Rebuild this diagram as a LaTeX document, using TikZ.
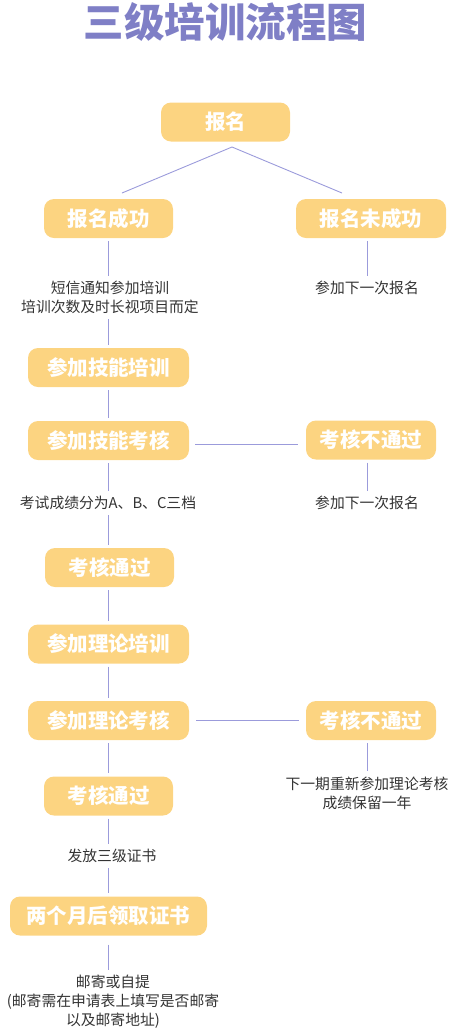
\documentclass[tikz,border=0pt]{standalone}
\usepackage{fontspec}
\usetikzlibrary{calc}
\setmainfont{Noto Sans CJK SC}
\definecolor{boxc}{HTML}{FCD481}
\definecolor{linec}{HTML}{9B9BDB}
\definecolor{titc}{HTML}{7F7FC6}
\definecolor{labc}{HTML}{333333}
\begin{document}
\begin{tikzpicture}[x=1pt,y=-1pt,
  box/.style={rounded corners=10pt, fill=boxc, text=white, font=\fontsize{20.5}{22}\selectfont\bfseries, minimum height=39pt, inner sep=0pt},
  lab/.style={text=labc, font=\fontsize{14.8}{19}\selectfont, align=center, inner sep=2pt},
  ln/.style={draw=linec, line width=0.9pt, shorten <=3pt, shorten >=3pt}]
\useasboundingbox (0,0) rectangle (451,1029);
\node[text=titc, font=\fontsize{40.5}{42}\selectfont\bfseries] (title) at (225.5,22) {三级培训流程图};

\node[box, minimum width=129pt] (reg) at (225.5,122) {报名};
\node[box, minimum width=129pt] (ok) at (108.5,218.5) {报名成功};
\node[box, minimum width=150pt] (nok) at (371,218.5) {报名未成功};
\coordinate (sp) at (232,147);
\coordinate (sl) at (122,193);
\coordinate (sr) at (342,193);
\draw[draw=linec, line width=0.9pt] (sl) -- (sp) -- (sr);

\node[lab] (l1) at (110,297.5) {短信通知参加培训\\培训次数及时长视项目而定};
\node[lab] (r1) at (367,288) {参加下一次报名};
\node[box, minimum width=161pt] (skt) at (108.5,367.5) {参加技能培训};
\node[box, minimum width=161pt] (ske) at (108.5,440.5) {参加技能考核};
\node[box, minimum width=130pt] (f1) at (371,440) {考核不通过};
\node[lab] (l2) at (108,503) {考试成绩分为A、B、C三档};
\node[lab] (r2) at (367,503) {参加下一次报名};
\node[box, minimum width=129pt] (p1) at (109.5,567.5) {考核通过};
\node[box, minimum width=161pt] (tht) at (108.5,644) {参加理论培训};
\node[box, minimum width=161pt] (the) at (108.5,720.5) {参加理论考核};
\node[box, minimum width=130pt] (f2) at (371,720.5) {考核不通过};
\node[lab] (r3) at (367,793) {下一期重新参加理论考核\\成绩保留一年};
\node[box, minimum width=129pt] (p2) at (108.5,796) {考核通过};
\node[lab] (l3) at (112,856) {发放三级证书};
\node[box, minimum width=197pt] (get) at (108.5,916) {两个月后领取证书};
\node[lab] (l4) at (113,1001.5) {邮寄或自提\\(邮寄需在申请表上填写是否邮寄\\以及邮寄地址)};

\draw[ln] (ok.south -| 108,0) -- (l1.north -| 108,0);
\draw[ln] (l1.south -| 108,0) -- (skt.north -| 108,0);
\draw[ln] (nok.south -| 367,0) -- (r1.north -| 367,0);
\draw[ln] (skt) -- (ske);
\draw[ln, shorten <=6pt, shorten >=8pt] ($(ske.east)+(0,3.5)$) -- ($(f1.west)+(0,4)$);
\draw[ln] (f1.south -| 367,0) -- (r2.north -| 367,0);
\draw[ln] (ske.south -| 108,0) -- (l2.north -| 108,0);
\draw[ln] (l2.south -| 108,0) -- (p1.north -| 108,0);
\draw[ln] (p1.south -| 108,0) -- (tht.north -| 108,0);
\draw[ln] (tht) -- (the);
\draw[ln, shorten <=7pt, shorten >=7pt] (the) -- (f2);
\draw[ln] (f2.south -| 367,0) -- (r3.north -| 367,0);
\draw[ln] (the.south -| 108,0) -- (p2.north -| 108,0);
\draw[ln] (p2.south -| 108,0) -- (l3.north -| 108,0);
\draw[ln] (l3.south -| 108,0) -- (get.north -| 108,0);
\draw[ln, shorten <=9pt] (get.south -| 108,0) -- (l4.north -| 108,0);
\end{tikzpicture}
\end{document}
